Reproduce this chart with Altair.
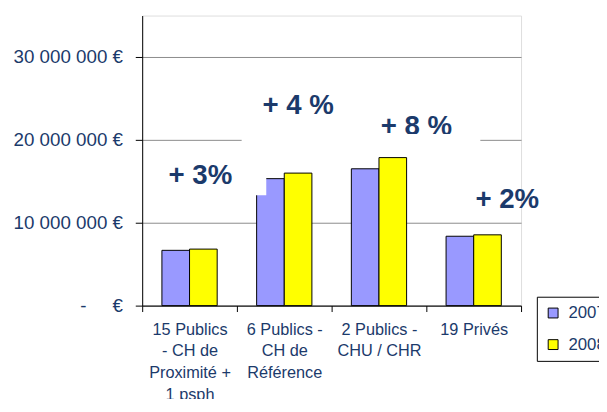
import json
import altair as alt
import pandas as pd

# ---- data ----
categories = [
    "15 Publics|- CH de|Proximité +|1 psph",
    "6 Publics -|CH de|Référence",
    "2 Publics -|CHU / CHR",
    "19 Privés",
]
years = ["2007", "2008"]
values_2007 = [6_670_000, 15_320_000, 16_510_000, 8_370_000]
values_2008 = [6_820_000, 15_990_000, 17_860_000, 8_540_000]

growth_labels = ["+ 3%", "+ 4 %", "+ 8 %", "+ 2%"]
growth_label_y = [14_730_000, 23_180_000, 20_540_000, 11_820_000]

y_tick_values = [0, 10_000_000, 20_000_000, 30_000_000]
y_tick_labels = ["-\u00a0\u00a0\u00a0\u00a0\u00a0€", "10 000 000 €", "20 000 000 €", "30 000 000 €"]

# ---- style ----
NAVY = "#1B3A6B"
FONT = "Liberation Sans"
growth_label_dx = [11, 14, 38, 34]

bars_df = pd.DataFrame(
    {
        "category": categories * 2,
        "year": [years[0]] * 4 + [years[1]] * 4,
        "value": values_2007 + values_2008,
    }
)

label_expr = " : ".join(
    f"datum.value == {v} ? {json.dumps(t)}" for v, t in zip(y_tick_values, y_tick_labels)
) + " : ''"

x_scale = alt.Scale(domain=categories, paddingInner=0, paddingOuter=0)
y_scale = alt.Scale(domain=[0, 35_000_000], nice=False)

bars = alt.Chart(bars_df).mark_bar(stroke="black", strokeWidth=1).encode(
    x=alt.X(
        "category:N",
        scale=x_scale,
        title=None,
        axis=alt.Axis(
            labelExpr="split(datum.label, '|')",
            labelAngle=0,
            tickBand="extent",
            tickSize=6,
            tickColor="black",
            domainColor="black",
            labelFontSize=16.5,
            labelColor=NAVY,
            labelFont=FONT,
            labelLineHeight=22,
            labelPadding=10,
            labelOverlap=False,
            labelLimit=300,
            grid=False,
        ),
    ),
    xOffset=alt.XOffset("year:N", scale=alt.Scale(paddingInner=0, paddingOuter=0.714)),
    y=alt.Y(
        "value:Q",
        scale=y_scale,
        title=None,
        axis=alt.Axis(
            values=y_tick_values,
            labelExpr=label_expr,
            grid=True,
            gridColor="#8a8a8a",
            gridWidth=1,
            tickSize=7,
            tickColor="black",
            domainColor="black",
            labelFontSize=19,
            labelColor=NAVY,
            labelFont=FONT,
            labelPadding=13,
        ),
    ),
    color=alt.Color(
        "year:N",
        title=None,
        scale=alt.Scale(domain=years, range=["#9999FF", "#FFFF00"]),
        legend=alt.Legend(
            orient="none",
            legendX=400,
            legendY=285,
            strokeColor="black",
            fillColor="white",
            padding=8,
            symbolType="square",
            symbolSize=100,
            symbolStrokeColor="black",
            symbolStrokeWidth=1,
            labelFontSize=17,
            labelColor=NAVY,
            labelFont=FONT,
            rowPadding=14,
            labelOffset=7,
        ),
    ),
)

layers = [bars]
for cat, txt, ly, dx in zip(categories, growth_labels, growth_label_y, growth_label_dx):
    tdf = pd.DataFrame({"category": [cat], "label": [txt], "label_y": [ly]})
    layers.append(
        alt.Chart(tdf)
        .mark_text(
            align="center",
            baseline="alphabetic",
            fontSize=28,
            fontWeight="bold",
            font=FONT,
            color=NAVY,
            dx=dx,
        )
        .encode(
            x=alt.X("category:N", scale=x_scale, title=None),
            y=alt.Y("label_y:Q", scale=y_scale, title=None),
            text="label:N",
        )
    )

# white text-box overlaps present in the original picture
mask1 = pd.DataFrame({"category": [categories[1]], "category_end": [categories[3]],
                      "y0": [19_170_000], "y1": [20_710_000]})
mask2 = pd.DataFrame({"category": [categories[1]], "category_end": [categories[1]],
                      "y0": [13_330_000], "y1": [15_450_000]})
for mdf, b0, b1 in [(mask1, 0.05, 0.57), (mask2, 0.19, 0.31)]:
    layers.append(
        alt.Chart(mdf)
        .mark_rect(color="white")
        .encode(
            x=alt.X("category:N", scale=x_scale, title=None, bandPosition=b0),
            x2=alt.X2("category_end", bandPosition=b1),
            y=alt.Y("y0:Q", scale=y_scale, title=None),
            y2="y1",
        )
    )

chart = (
    alt.layer(*layers)
    .properties(
        width=384,
        height=294,
        autosize=alt.AutoSizeParams(type="none"),
        padding={"left": 136, "top": 5, "right": 79, "bottom": 92},
        background="white",
    )
    .configure_view(strokeWidth=0)
    .configure(font=FONT)
)

chart.save("out.html", embed_options={"renderer": "svg", "actions": False})
